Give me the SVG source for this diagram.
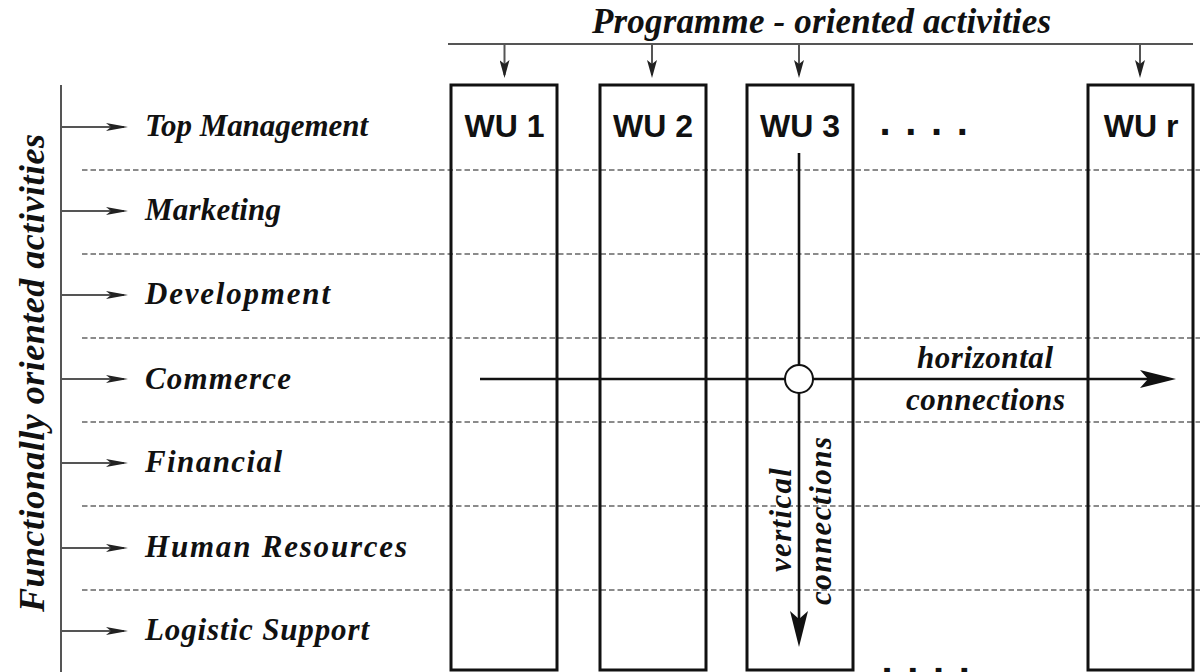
<svg xmlns="http://www.w3.org/2000/svg" width="1200" height="672" viewBox="0 0 1200 672">
<style>
.lab{font-family:"Liberation Serif","Times New Roman",serif;font-weight:bold;font-style:italic;fill:#111}
.wu{font-family:"Liberation Sans",Arial,sans-serif;font-weight:bold;font-size:32px;fill:#111;text-anchor:middle}
.dots{font-family:"Liberation Sans",Arial,sans-serif;font-weight:bold;font-size:40px;fill:#111;letter-spacing:14.6px}
.box{fill:none;stroke:#111;stroke-width:3}
.dash{stroke:#666;stroke-width:1.6;stroke-dasharray:5.5 3}
.thin{stroke:#555;stroke-width:2;fill:none}
.thick{stroke:#111;stroke-width:2.6;fill:none}
</style>
<defs>
<marker id="big" markerUnits="userSpaceOnUse" markerWidth="36" markerHeight="18" viewBox="0 0 36 18" refX="28" refY="9" orient="auto">
<path d="M0,0 L36,9 L0,18 L8,9 Z" fill="#111"/>
</marker>
<marker id="small" markerUnits="userSpaceOnUse" markerWidth="22" markerHeight="8" viewBox="0 0 22 8" refX="18" refY="4" orient="auto">
<path d="M0,0 L22,4 L0,8 L5,4 Z" fill="#222"/>
</marker>
<marker id="top" markerUnits="userSpaceOnUse" markerWidth="18" markerHeight="10" viewBox="0 0 18 10" refX="15" refY="5" orient="auto">
<path d="M0,0 L18,5 L0,10 L4,5 Z" fill="#222"/>
</marker>
</defs>
<rect width="1200" height="672" fill="#fff"/>

<g id="grid">
<line class="dash" x1="82" y1="170" x2="1200" y2="170"/>
<line class="dash" x1="82" y1="254" x2="1200" y2="254"/>
<line class="dash" x1="82" y1="338" x2="1200" y2="338"/>
<line class="dash" x1="82" y1="422" x2="1200" y2="422"/>
<line class="dash" x1="82" y1="506" x2="1200" y2="506"/>
<line class="dash" x1="82" y1="590" x2="1200" y2="590"/>
</g>

<g id="title">
<text class="lab" x="592" y="33" font-size="35" textLength="459">Programme - oriented activities</text>
</g>
<g id="side-title">
<text class="lab" font-size="36" text-anchor="middle" transform="translate(44,373) rotate(-90)" textLength="478">Functionally oriented activities</text>
</g>

<g id="row-top-management"><text class="lab" x="145" y="136" font-size="31" textLength="223">Top Management</text></g>
<g id="row-marketing"><text class="lab" x="145" y="220" font-size="31" textLength="136">Marketing</text></g>
<g id="row-development"><text class="lab" x="145" y="304" font-size="31" textLength="185">Development</text></g>
<g id="row-commerce"><text class="lab" x="145" y="389" font-size="31" textLength="146">Commerce</text></g>
<g id="row-financial"><text class="lab" x="145" y="472" font-size="31" textLength="137">Financial</text></g>
<g id="row-human-resources"><text class="lab" x="145" y="557" font-size="31" textLength="262">Human Resources</text></g>
<g id="row-logistic-support"><text class="lab" x="145" y="640" font-size="31" textLength="224">Logistic Support</text></g>

<g id="wu1"><rect class="box" x="451" y="85" width="106" height="585"/><text class="wu" x="504.5" y="137">WU 1</text></g>
<g id="wu2"><rect class="box" x="600" y="85" width="106" height="585"/><text class="wu" x="653" y="137">WU 2</text></g>
<g id="wu3"><rect class="box" x="747" y="85" width="106" height="585"/><text class="wu" x="800" y="137">WU 3</text></g>
<g id="wur"><rect class="box" x="1088" y="85" width="105" height="585"/><text class="wu" x="1141" y="137">WU r</text></g>

<g id="ellipsis">
<text class="dots" x="879.5" y="135">....</text>
<text class="dots" x="881.5" y="674">....</text>
</g>

<g id="connectors">
<line class="thin" x1="448" y1="44" x2="1193" y2="44"/>
<line class="thin" x1="504.5" y1="44" x2="504.5" y2="75" marker-end="url(#top)"/>
<line class="thin" x1="652" y1="44" x2="652" y2="75" marker-end="url(#top)"/>
<line class="thin" x1="799" y1="44" x2="799" y2="75" marker-end="url(#top)"/>
<line class="thin" x1="1140" y1="44" x2="1140" y2="75" marker-end="url(#top)"/>

<line class="thin" x1="61" y1="85" x2="61" y2="672"/>
<line class="thin" x1="61" y1="127" x2="124" y2="127" marker-end="url(#small)"/>
<line class="thin" x1="61" y1="211" x2="124" y2="211" marker-end="url(#small)"/>
<line class="thin" x1="61" y1="295" x2="124" y2="295" marker-end="url(#small)"/>
<line class="thin" x1="61" y1="379" x2="124" y2="379" marker-end="url(#small)"/>
<line class="thin" x1="61" y1="463" x2="124" y2="463" marker-end="url(#small)"/>
<line class="thin" x1="61" y1="548" x2="124" y2="548" marker-end="url(#small)"/>
<line class="thin" x1="61" y1="631" x2="124" y2="631" marker-end="url(#small)"/>

<line class="thick" x1="480" y1="379" x2="1168" y2="379" marker-end="url(#big)"/>
<line class="thick" x1="799" y1="153" x2="799" y2="639" marker-end="url(#big)"/>
<circle cx="799" cy="379" r="14" fill="#fff" stroke="#111" stroke-width="2"/>
</g>

<g id="connection-labels">
<text class="lab" x="917" y="368" font-size="31" textLength="136">horizontal</text>
<text class="lab" x="906" y="410" font-size="31" textLength="159">connections</text>
<text class="lab" font-size="31" text-anchor="middle" transform="translate(791,520) rotate(-90)" textLength="104">vertical</text>
<text class="lab" font-size="31" text-anchor="middle" transform="translate(831,521) rotate(-90)" textLength="168">connections</text>
</g>
</svg>
